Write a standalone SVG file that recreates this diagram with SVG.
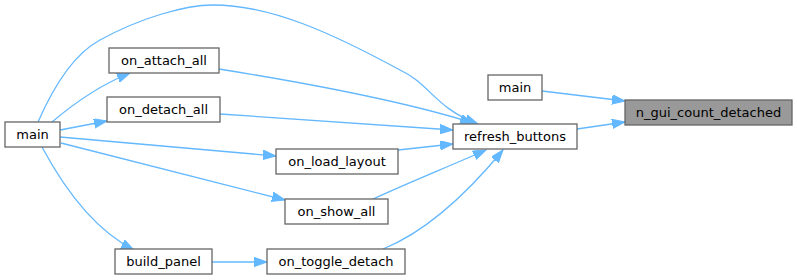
<svg xmlns="http://www.w3.org/2000/svg" width="797" height="280" viewBox="0 0 797 280">
<defs>
<style>
.node rect{fill:#ffffff;stroke:#666666;stroke-width:1.3}
.node.hl rect{fill:#999999}
.node text{font-family:"DejaVu Sans",sans-serif;font-size:13px;text-anchor:middle;fill:#000000}
.edges path{fill:none;stroke:#63b8ff;stroke-width:1.3;marker-end:url(#ah)}
</style>
<marker id="ah" markerUnits="userSpaceOnUse" markerWidth="14" markerHeight="10" refX="13" refY="4.7" orient="auto" viewBox="0 0 14 10">
<path d="M0,0 L13,4.7 L0,9.4 z" fill="#63b8ff" stroke="#63b8ff" stroke-width="1"/>
</marker>
</defs>
<rect width="797" height="280" fill="#ffffff"/>
<g class="edges">
<path d="M542,91 L625,101"/>
<path d="M577,129 L625,122"/>
<path d="M219,69 C300,82 400,100 473,123"/>
<path d="M38,122 C52,90 72,55 100,40 C140,18 185,5 213,5 C270,5 330,32 400,70 C430,84 435,108 478,124"/>
<path d="M220,114 L453,130"/>
<path d="M398,150 L453,144"/>
<path d="M373,199 C410,182 450,166 486,150"/>
<path d="M383,249 C430,230 470,190 503,150"/>
<path d="M52,122 C72,105 100,85 130,73"/>
<path d="M60,130 L107,121"/>
<path d="M60,137 L276,156"/>
<path d="M61,143 L285,200"/>
<path d="M42,147 C65,190 95,230 134,250"/>
<path d="M212,262 L267,262"/>
</g>
<g id="n_gui_count_detached" class="node hl"><rect x="625" y="100" width="167" height="25"/><text x="708.5" y="117">n_gui_count_detached</text></g>
<g id="main_r" class="node"><rect x="488" y="75" width="54" height="25"/><text x="515" y="92">main</text></g>
<g id="refresh_buttons" class="node"><rect x="453" y="124" width="124" height="25"/><text x="515" y="141">refresh_buttons</text></g>
<g id="main_l" class="node"><rect x="5" y="122" width="55" height="25"/><text x="32.5" y="139">main</text></g>
<g id="on_attach_all" class="node"><rect x="109" y="48" width="110" height="25"/><text x="164" y="65">on_attach_all</text></g>
<g id="on_detach_all" class="node"><rect x="107" y="97" width="113" height="25"/><text x="163.5" y="114">on_detach_all</text></g>
<g id="on_load_layout" class="node"><rect x="276" y="149" width="122" height="25"/><text x="337" y="166">on_load_layout</text></g>
<g id="on_show_all" class="node"><rect x="285" y="199" width="103" height="25"/><text x="336.5" y="216">on_show_all</text></g>
<g id="build_panel" class="node"><rect x="115" y="249" width="97" height="25"/><text x="163.5" y="266">build_panel</text></g>
<g id="on_toggle_detach" class="node"><rect x="267" y="249" width="138" height="25"/><text x="336" y="266">on_toggle_detach</text></g>
</svg>
